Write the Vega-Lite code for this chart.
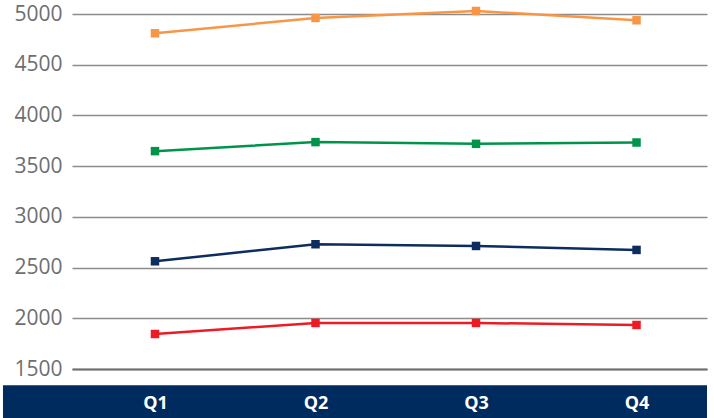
{
  "$schema": "https://vega.github.io/schema/vega-lite/v6.json",
  "width": 635,
  "height": 355,
  "autosize": {"type": "none"},
  "padding": {"left": 72, "top": 14, "right": 7, "bottom": 49},
  "background": "white",
  "config": {
    "view": {"stroke": null},
    "font": "Open Sans"
  },
  "datasets": {
    "sales": [
      {"quarter": 1, "series": "A", "value": 4810},
      {"quarter": 2, "series": "A", "value": 4961},
      {"quarter": 3, "series": "A", "value": 5030},
      {"quarter": 4, "series": "A", "value": 4938},
      {"quarter": 1, "series": "B", "value": 3648},
      {"quarter": 2, "series": "B", "value": 3737},
      {"quarter": 3, "series": "B", "value": 3720},
      {"quarter": 4, "series": "B", "value": 3733},
      {"quarter": 1, "series": "C", "value": 2562},
      {"quarter": 2, "series": "C", "value": 2730},
      {"quarter": 3, "series": "C", "value": 2713},
      {"quarter": 4, "series": "C", "value": 2674},
      {"quarter": 1, "series": "D", "value": 1845},
      {"quarter": 2, "series": "D", "value": 1954},
      {"quarter": 3, "series": "D", "value": 1954},
      {"quarter": 4, "series": "D", "value": 1934}
    ]
  },
  "layer": [
    {
      "data": {"values": [{"band": "axis"}]},
      "mark": {"type": "rect", "color": "#002B5E"},
      "encoding": {
        "x": {"datum": 0.053, "type": "quantitative", "scale": {"domain": [0.483, 4.439], "nice": false, "zero": false}},
        "x2": {"datum": 4.439},
        "y": {"datum": 1339, "type": "quantitative", "scale": {"domain": [1500, 5000], "nice": false, "zero": false}},
        "y2": {"datum": 1014}
      }
    },
    {
      "data": {"name": "sales"},
      "mark": {
        "type": "line",
        "strokeWidth": 2.5,
        "point": {"shape": "square", "size": 72, "filled": true, "opacity": 1}
      },
      "encoding": {
        "x": {
          "field": "quarter",
          "type": "quantitative",
          "scale": {"domain": [0.483, 4.439], "nice": false, "zero": false},
          "axis": {
            "values": [1, 2, 3, 4],
            "labelExpr": "'Q' + datum.value",
            "title": null,
            "grid": false,
            "ticks": false,
            "domain": true,
            "domainColor": "#6f6f6f",
            "domainWidth": 2,
            "labelColor": "#ffffff",
            "labelFontWeight": "bold",
            "labelFontSize": 18,
            "labelBaseline": "middle",
            "labelPadding": 34,
            "labelFlush": false,
            "labelOverlap": false,
            "zindex": 2
          }
        },
        "y": {
          "field": "value",
          "type": "quantitative",
          "scale": {"domain": [1500, 5000], "nice": false, "zero": false},
          "axis": {
            "values": [1500, 2000, 2500, 3000, 3500, 4000, 4500, 5000],
            "format": "d",
            "title": null,
            "domain": false,
            "ticks": false,
            "grid": true,
            "gridColor": "#8c8c8c",
            "gridWidth": 1.3,
            "gridOpacity": 1,
            "labelColor": "#6d6e71",
            "labelFontSize": 21,
            "labelPadding": 10,
            "labelFlush": false,
            "labelBaseline": "middle"
          }
        },
        "color": {
          "field": "series",
          "type": "nominal",
          "scale": {
            "domain": ["A", "B", "C", "D"],
            "range": ["#F79646", "#00944A", "#0D2D5E", "#ED1C24"]
          },
          "legend": null
        }
      }
    }
  ]
}
